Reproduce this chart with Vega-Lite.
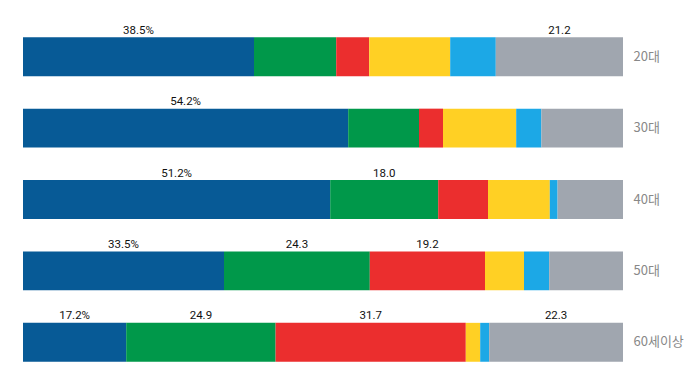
{
  "$schema": "https://vega.github.io/schema/vega-lite/v6.json",
  "width": 600,
  "height": 357,
  "autosize": "none",
  "padding": {"left": 23, "top": 21, "right": 77, "bottom": 5},
  "background": "white",
  "config": {"view": {"stroke": null}},
  "data": {
    "values": [
      {"age": "20대", "k": 1, "v": 38.5, "label": "38.5%"},
      {"age": "20대", "k": 2, "v": 13.7, "label": ""},
      {"age": "20대", "k": 3, "v": 5.5, "label": ""},
      {"age": "20대", "k": 4, "v": 13.5, "label": ""},
      {"age": "20대", "k": 5, "v": 7.6, "label": ""},
      {"age": "20대", "k": 6, "v": 21.2, "label": "21.2"},
      {"age": "30대", "k": 1, "v": 54.2, "label": "54.2%"},
      {"age": "30대", "k": 2, "v": 11.8, "label": ""},
      {"age": "30대", "k": 3, "v": 4.0, "label": ""},
      {"age": "30대", "k": 4, "v": 12.2, "label": ""},
      {"age": "30대", "k": 5, "v": 4.2, "label": ""},
      {"age": "30대", "k": 6, "v": 13.6, "label": ""},
      {"age": "40대", "k": 1, "v": 51.2, "label": "51.2%"},
      {"age": "40대", "k": 2, "v": 18.0, "label": "18.0"},
      {"age": "40대", "k": 3, "v": 8.3, "label": ""},
      {"age": "40대", "k": 4, "v": 10.3, "label": ""},
      {"age": "40대", "k": 5, "v": 1.3, "label": ""},
      {"age": "40대", "k": 6, "v": 10.9, "label": ""},
      {"age": "50대", "k": 1, "v": 33.5, "label": "33.5%"},
      {"age": "50대", "k": 2, "v": 24.3, "label": "24.3"},
      {"age": "50대", "k": 3, "v": 19.2, "label": "19.2"},
      {"age": "50대", "k": 4, "v": 6.5, "label": ""},
      {"age": "50대", "k": 5, "v": 4.2, "label": ""},
      {"age": "50대", "k": 6, "v": 12.3, "label": ""},
      {"age": "60세이상", "k": 1, "v": 17.2, "label": "17.2%"},
      {"age": "60세이상", "k": 2, "v": 24.9, "label": "24.9"},
      {"age": "60세이상", "k": 3, "v": 31.7, "label": "31.7"},
      {"age": "60세이상", "k": 4, "v": 2.4, "label": ""},
      {"age": "60세이상", "k": 5, "v": 1.5, "label": ""},
      {"age": "60세이상", "k": 6, "v": 22.3, "label": "22.3"}
    ]
  },
  "transform": [
    {"stack": "v", "groupby": ["age"], "sort": [{"field": "k", "order": "ascending"}], "as": ["v0", "v1"]},
    {"calculate": "(datum.v0 + datum.v1) / 2", "as": "mid"}
  ],
  "encoding": {
    "y": {
      "field": "age",
      "type": "nominal",
      "sort": ["20대", "30대", "40대", "50대", "60세이상"],
      "scale": {"paddingInner": 0.455, "paddingOuter": 0.2275},
      "axis": {
        "orient": "right",
        "title": null,
        "domain": false,
        "ticks": false,
        "labelPadding": 10,
        "labelFontSize": 13,
        "labelColor": "#888888",
        "labelFont": "Noto Sans CJK KR"
      }
    }
  },
  "layer": [
    {
      "mark": {"type": "bar"},
      "encoding": {
        "x": {"field": "v0", "type": "quantitative", "scale": {"domain": [0, 100], "nice": false}, "axis": null},
        "x2": {"field": "v1"},
        "color": {
          "field": "k",
          "type": "ordinal",
          "scale": {"domain": [1, 2, 3, 4, 5, 6], "range": ["#075A96", "#00984A", "#EB2E2E", "#FFD024", "#1CA8E6", "#A0A6AF"]},
          "legend": null
        }
      }
    },
    {
      "mark": {"type": "text", "baseline": "alphabetic", "dy": -23, "fontSize": 11.5, "fontWeight": "normal", "color": "#111111", "font": "Roboto"},
      "encoding": {
        "x": {"field": "mid", "type": "quantitative"},
        "text": {"field": "label"}
      }
    }
  ]
}
